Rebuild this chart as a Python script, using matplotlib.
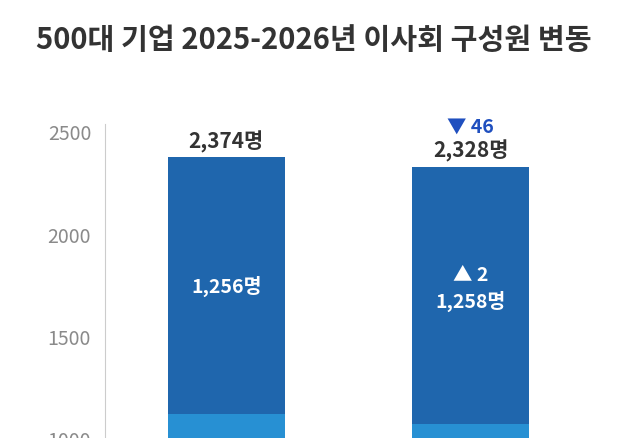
import matplotlib.pyplot as plt

plt.rcParams['font.family'] = ['Noto Sans CJK KR', 'DejaVu Sans']

years = ['2025', '2026']
totals = [2374, 2328]
upper = [1256, 1258]
lower = [t - u for t, u in zip(totals, upper)]
total_change = '▼ 46'
upper_change = '▲ 2'

dark = '#1f66ad'
light = '#2790d3'

fig = plt.figure(figsize=(6.28, 4.39), dpi=100)
ax = fig.add_axes([105 / 628, 0, 495 / 628, 314 / 439])
x = [0, 1]
ax.bar(x, lower, width=0.48, color=light)
ax.bar(x, upper, bottom=lower, width=0.48, color=dark)

ax.set_xlim(-0.496, 1.53)
ax.set_ylim(1019, 2536)
ax.set_yticks([1000, 1500, 2000, 2500])
ax.tick_params(axis='y', length=0, labelsize=14, colors='#8a8a8a', pad=10)
ax.set_xticks([])
for s in ['top', 'right', 'bottom']:
    ax.spines[s].set_visible(False)
ax.spines['left'].set_color('#cccccc')
for lab in ax.get_yticklabels():
    lab.set_clip_on(False)

for i in x:
    ax.text(i, totals[i] + 25, f'{totals[i]:,}명', ha='center', va='bottom',
            fontsize=15, fontweight='bold', color='#333333', clip_on=False)
    mid = lower[i] + upper[i] / 2
    if i == 0:
        ax.text(i, mid, f'{upper[i]:,}명', ha='center', va='center',
                fontsize=14, fontweight='bold', color='white')
    else:
        ax.text(i, mid + 100, upper_change, ha='center', va='center',
                fontsize=14, fontweight='bold', color='white')
        ax.text(i, mid - 25, f'{upper[i]:,}명', ha='center', va='center',
                fontsize=14, fontweight='bold', color='white')
ax.text(1, totals[1] + 150, total_change, ha='center', va='bottom',
        fontsize=14, fontweight='bold', color='#1f4fbf', clip_on=False)

fig.text(0.5, 1 - 40 / 439, '500대 기업 2025-2026년 이사회 구성원 변동', ha='center',
         va='center', fontsize=21, fontweight='bold', color='#333333')

fig.savefig('out.png', dpi=100)
